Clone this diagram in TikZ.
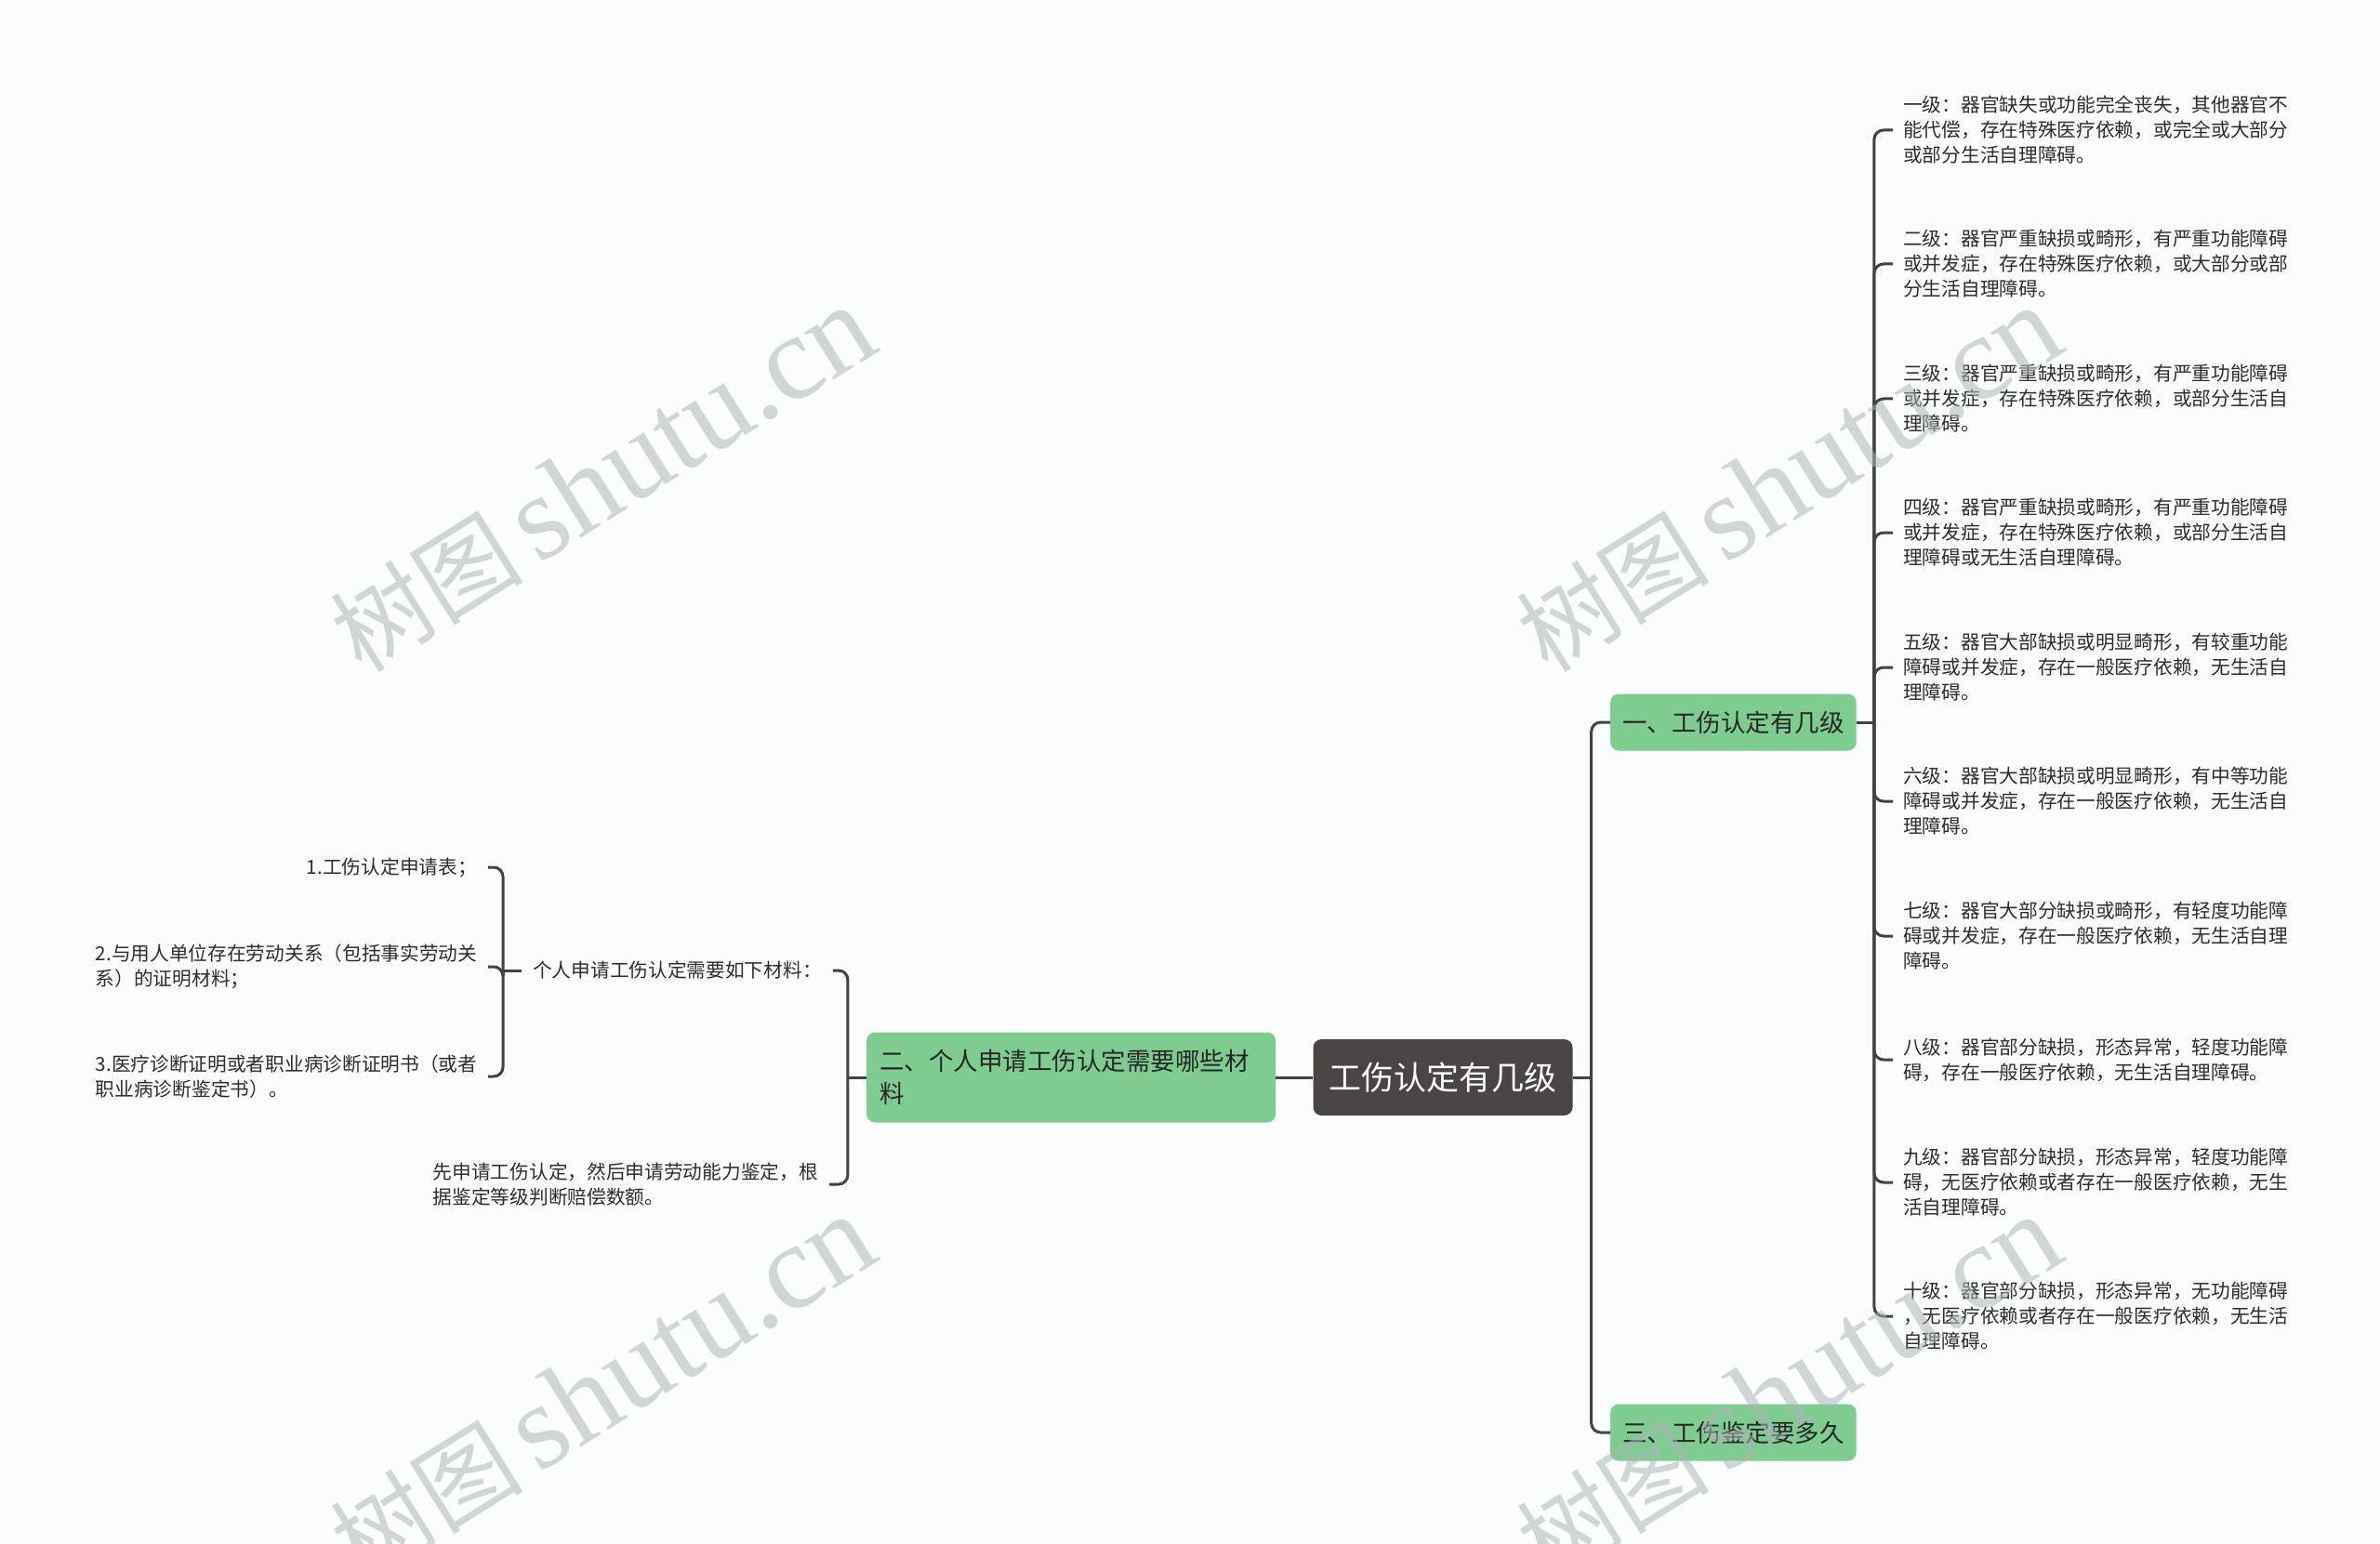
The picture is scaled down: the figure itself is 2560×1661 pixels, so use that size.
\documentclass[tikz,border=0pt]{standalone}
\usepackage{fontspec}
\setmainfont{Noto Sans CJK SC}
\newfontfamily\wmlatin{Liberation Serif}
\usepackage{xcolor}
\usetikzlibrary{positioning}
\definecolor{rootgray}{HTML}{4A4545}
\definecolor{topicgreen}{HTML}{7FCC91}
\definecolor{linegray}{HTML}{434343}
\definecolor{paper}{HTML}{FAFCFD}
\definecolor{wmgray}{HTML}{AEB5B7}
\definecolor{txt}{HTML}{2E2E2E}
\newcommand{\wmtext}{{\fontsize{104pt}{104pt}\selectfont 树图}\hspace{16pt}{\wmlatin\fontsize{130pt}{130pt}\selectfont shutu.cn}}

\begin{document}
\begin{tikzpicture}[
  x=1pt, y=-1pt,
  rootbox/.style={fill=rootgray, rounded corners=9pt, text=white,
             font=\fontsize{35pt}{42pt}\selectfont, inner xsep=17pt, minimum height=82pt},
  topic/.style={fill=topicgreen, rounded corners=9pt, text=black!85,
             font=\fontsize{26.5pt}{35pt}\selectfont, inner xsep=13pt, minimum height=61pt},
  mid/.style={text=txt, inner xsep=12pt, inner ysep=0pt, align=left,
             font=\fontsize{20.7pt}{27pt}\selectfont},
  leaf/.style={mid, anchor=west, text width=420pt, inner xsep=11pt},
  lleaf/.style={mid, anchor=east, text width=410pt},
  conn/.style={draw=linegray, line width=3pt, rounded corners=10pt},
  wm/.style={text=wmgray, rotate=32, text opacity=.55, inner sep=0pt}
]
\fill[paper] (0,0) rectangle (2560,1661);
\useasboundingbox (0,0) rectangle (2560,1661);

\node[rootbox] (root) at (1552,1159) {工伤认定有几级};
\node[topic, anchor=west] (b1) at (1732,777) {一、工伤认定有几级};
\node[topic, anchor=west] (b3) at (1732,1541) {三、工伤鉴定要多久};
\node[topic, left=40pt of root, text width=412pt, align=left, inner xsep=14pt, minimum height=97pt] (b2)
  {二、个人申请工伤认定需要哪些材\\料};

\node[leaf] (g1) at (2036,140) {一级：器官缺失或功能完全丧失，其他器官不\\能代偿，存在特殊医疗依赖，或完全或大部分\\或部分生活自理障碍。};
\node[leaf] (g2) at (2036,284) {二级：器官严重缺损或畸形，有严重功能障碍\\或并发症，存在特殊医疗依赖，或大部分或部\\分生活自理障碍。};
\node[leaf] (g3) at (2036,429) {三级：器官严重缺损或畸形，有严重功能障碍\\或并发症，存在特殊医疗依赖，或部分生活自\\理障碍。};
\node[leaf] (g4) at (2036,573) {四级：器官严重缺损或畸形，有严重功能障碍\\或并发症，存在特殊医疗依赖，或部分生活自\\理障碍或无生活自理障碍。};
\node[leaf] (g5) at (2036,718) {五级：器官大部缺损或明显畸形，有较重功能\\障碍或并发症，存在一般医疗依赖，无生活自\\理障碍。};
\node[leaf] (g6) at (2036,862) {六级：器官大部缺损或明显畸形，有中等功能\\障碍或并发症，存在一般医疗依赖，无生活自\\理障碍。};
\node[leaf] (g7) at (2036,1007) {七级：器官大部分缺损或畸形，有轻度功能障\\碍或并发症，存在一般医疗依赖，无生活自理\\障碍。};
\node[leaf] (g8) at (2036,1140) {八级：器官部分缺损，形态异常，轻度功能障\\碍，存在一般医疗依赖，无生活自理障碍。};
\node[leaf] (g9) at (2036,1272) {九级：器官部分缺损，形态异常，轻度功能障\\碍，无医疗依赖或者存在一般医疗依赖，无生\\活自理障碍。};
\node[leaf] (g10) at (2036,1416) {十级：器官部分缺损，形态异常，无功能障碍\\，无医疗依赖或者存在一般医疗依赖，无生活\\自理障碍。};

\node[mid, anchor=west] (m1) at (561,1044) {个人申请工伤认定需要如下材料：};
\node[mid, anchor=east] (m2) at (892,1274) {先申请工伤认定，然后申请劳动能力鉴定，根\\据鉴定等级判断赔偿数额。};
\node[lleaf, align=right] (p1) at (525,933) {1.工伤认定申请表；};
\node[lleaf] (p2) at (525,1040) {2.与用人单位存在劳动关系（包括事实劳动关\\系）的证明材料；};
\node[lleaf] (p3) at (525,1158) {3.医疗诊断证明或者职业病诊断证明书（或者\\职业病诊断鉴定书）。};

\coordinate[right=20pt of root] (j0);
\coordinate[right=19pt of b1] (j1);
\coordinate[left=20pt of b2] (j2);
\coordinate[left=20pt of m1] (j3);

\draw[conn] (root.east) -- (j0);
\draw[conn] (j0) |- (b1.west);
\draw[conn] (j0) |- (b3.west);
\draw[conn] (b1.east) -- (j1);
\draw[conn] (j1) |- (g1.west);
\draw[conn] (j1) |- (g2.west);
\draw[conn] (j1) |- (g3.west);
\draw[conn] (j1) |- (g4.west);
\draw[conn] (j1) |- (g5.west);
\draw[conn] (j1) |- (g6.west);
\draw[conn] (j1) |- (g7.west);
\draw[conn] (j1) |- (g8.west);
\draw[conn] (j1) |- (g9.west);
\draw[conn] (j1) |- (g10.west);
\draw[conn] (root.west) -- (b2.east);
\draw[conn] (b2.west) -- (j2);
\draw[conn] (j2) |- (m1.east);
\draw[conn] (j2) |- (m2.east);
\draw[conn] (m1.west) -- (j3);
\draw[conn] (j3) |- (p1.east);
\draw[conn] (j3) |- (p2.east);
\draw[conn] (j3) |- (p3.east);

\node[wm] (w1) at (648,516) {\wmtext};
\node[wm] (w2) at (1924,516) {\wmtext};
\node[wm] (w3) at (648,1494) {\wmtext};
\node[wm] (w4) at (1924,1494) {\wmtext};
\end{tikzpicture}
\end{document}
